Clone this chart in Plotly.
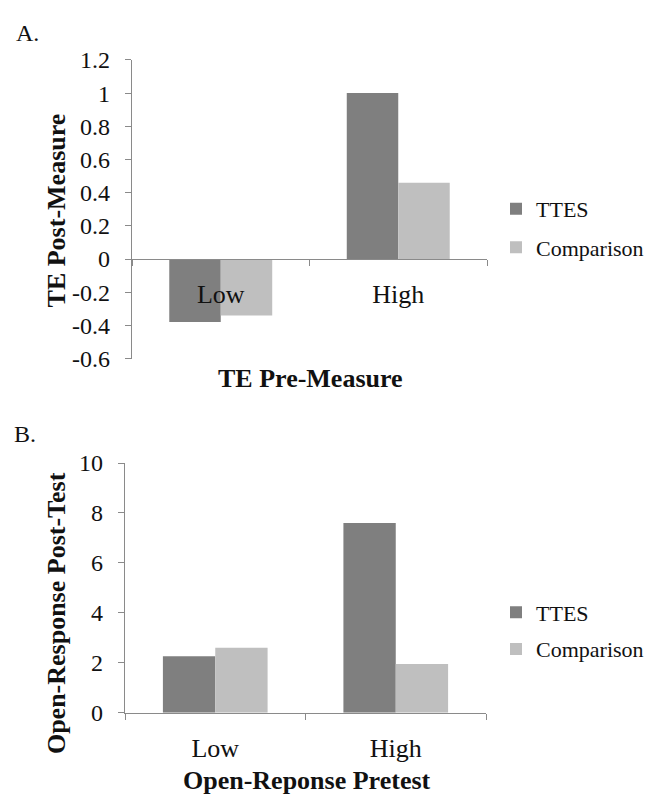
import plotly.graph_objects as go

W, H = 651, 809

categories = ["Low", "High"]
series_names = ["TTES", "Comparison"]

# Panel A: TE Post-Measure
a_ttes = [-0.38, 1.0]
a_comp = [-0.34, 0.46]
a_ticks = [-0.6, -0.4, -0.2, 0, 0.2, 0.4, 0.6, 0.8, 1, 1.2]
a_ticktext = ["-0.6", "-0.4", "-0.2", "0", "0.2", "0.4", "0.6", "0.8", "1", "1.2"]

# Panel B: Open-Response Post-Test
b_ttes = [2.26, 7.6]
b_comp = [2.6, 1.95]
b_ticks = [0, 2, 4, 6, 8, 10]

colors = {"TTES": "#7f7f7f", "Comparison": "#bfbfbf"}
FONT = "Liberation Serif"
TXT = "#111111"
AXC = "#8a8a8a"

def fx(px):
    return px / W

def fy(px):
    return 1 - px / H

# domains (pixel-derived)
a_xdom = [fx(132), fx(487)]
a_ydom = [fy(357), fy(48.5)]
b_xdom = [fx(125), fx(486)]
b_ydom = [fy(723), fy(465)]
a_range = [-0.6, 1.2]
a_zero_pos = a_ydom[0] + (0 - a_range[0]) / (a_range[1] - a_range[0]) * (a_ydom[1] - a_ydom[0])

fig = go.Figure()
for name, vals in [("TTES", a_ttes), ("Comparison", a_comp)]:
    fig.add_trace(go.Bar(x=categories, y=vals, name=name, marker_color=colors[name],
                         marker_line_width=0, xaxis="x", yaxis="y", legend="legend",
                         legendgroup="a" + name))
for name, vals in [("TTES", b_ttes), ("Comparison", b_comp)]:
    fig.add_trace(go.Bar(x=categories, y=vals, name=name, marker_color=colors[name],
                         marker_line_width=0, xaxis="x2", yaxis="y2", legend="legend2",
                         legendgroup="b" + name))

common_x = dict(showgrid=False, showline=True, linecolor=AXC, linewidth=1.3,
                ticks="outside", ticklen=6, tickcolor=AXC, tickwidth=1.3,
                tickson="boundaries", tickfont=dict(family=FONT, size=26, color=TXT),
                fixedrange=True, ticklabelstandoff=12)
common_y = dict(showgrid=False, zeroline=False, showline=True, linecolor=AXC, linewidth=1.3,
                ticks="outside", ticklen=6, tickcolor=AXC, tickwidth=1.3,
                tickfont=dict(family=FONT, size=24, color=TXT), ticklabelstandoff=10)

fig.update_layout(
    width=W, height=H,
    margin=dict(l=0, r=0, t=0, b=0),
    paper_bgcolor="white", plot_bgcolor="white",
    barmode="group", bargap=0.42, bargroupgap=0,
    font=dict(family=FONT, color=TXT),
    xaxis=dict(domain=a_xdom, anchor="free", position=a_zero_pos, **common_x),
    yaxis=dict(domain=a_ydom, anchor="x", range=a_range, tickvals=a_ticks, ticktext=a_ticktext, **common_y),
    xaxis2=dict(domain=b_xdom, anchor="y2", **common_x),
    yaxis2=dict(domain=b_ydom, anchor="x2", range=[0, 10], tickvals=b_ticks, **common_y),
    legend=dict(x=fx(496), y=fy(222.5), xanchor="left", yanchor="middle",
                font=dict(family=FONT, size=22, color=TXT), tracegroupgap=7,
                itemwidth=30, bgcolor="rgba(0,0,0,0)"),
    legend2=dict(x=fx(496), y=fy(638.5), xanchor="left", yanchor="middle",
                 font=dict(family=FONT, size=22, color=TXT), tracegroupgap=5,
                 itemwidth=30, bgcolor="rgba(0,0,0,0)"),
)

ann = [
    dict(text="A.", x=fx(27), y=fy(21), size=24, bold=False, angle=0),
    dict(text="B.", x=fx(25), y=fy(435), size=24, bold=False, angle=0),
    dict(text="TE Post-Measure", x=fx(56), y=fy(204), size=26, bold=True, angle=-90),
    dict(text="TE Pre-Measure", x=fx(310), y=fy(378), size=26, bold=True, angle=0),
    dict(text="Open-Response Post-Test", x=fx(56), y=fy(620), size=26, bold=True, angle=-90),
    dict(text="Open-Reponse Pretest", x=fx(307), y=fy(793), size=26, bold=True, angle=0),
]
for a in ann:
    txt = "<b>" + a["text"] + "</b>" if a["bold"] else a["text"]
    fig.add_annotation(text=txt, x=a["x"], y=a["y"], xref="paper", yref="paper",
                       xanchor="center", yanchor="middle", showarrow=False,
                       textangle=a["angle"], font=dict(family=FONT, size=a["size"], color=TXT))

fig.write_html("out.html", config={"displayModeBar": False},
               post_script="document.body.style.margin='0';document.body.style.padding='0';")
